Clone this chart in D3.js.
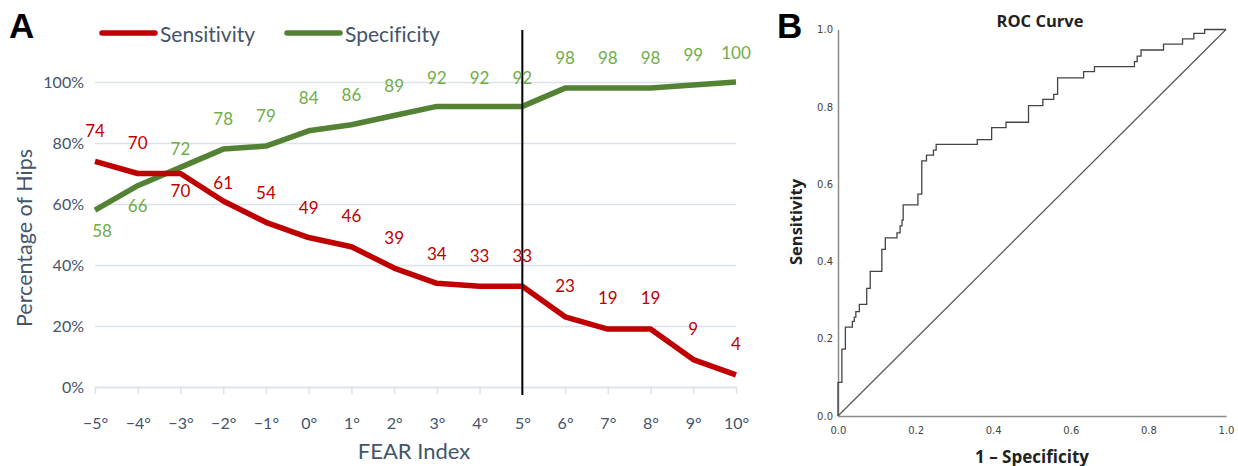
<!DOCTYPE html>
<html>
<head>
<meta charset="utf-8">
<script src="https://cdn.jsdelivr.net/npm/d3@7"></script>
<style>
  html, body { margin: 0; padding: 0; background: #fff; }
  svg { display: block; font-variant-ligatures: none; }
</style>
</head>
<body>
<div id="chart"></div>
<script>
// Panel A data
const fearIndex = [-5, -4, -3, -2, -1, 0, 1, 2, 3, 4, 5, 6, 7, 8, 9, 10];
const sensitivity = [74, 70, 70, 61, 54, 49, 46, 39, 34, 33, 33, 23, 19, 19, 9, 4];
const specificity = [58, 66, 72, 78, 79, 84, 86, 89, 92, 92, 92, 98, 98, 98, 99, 100];
const yTicksA = [0, 20, 40, 60, 80, 100];
const cutoff = 5;

// label placement (offset of label centre from point)
const sensLabelDy = [-31, -31, 17, -18, -30, -30, -31, -31, -30, -31, -31, -31, -32, -32, -31, -31];
const specLabelDy = [20, 20, -19, -31, -31, -33, -30, -30, -29, -29, -29, -31, -31, -31, -31, -30];

// Panel B data: ROC curve corner points (1 - specificity, sensitivity)
const rocFpr = [0, 0, 0.010, 0.019, 0.037, 0.042, 0.046, 0.055, 0.074, 0.083, 0.113, 0.122, 0.152, 0.160, 0.165, 0.168,
  0.206, 0.216, 0.228, 0.246, 0.253, 0.359, 0.396, 0.433, 0.491, 0.528, 0.556, 0.566, 0.633, 0.661, 0.764, 0.771,
  0.781, 0.839, 0.888, 0.917, 0.945, 1.0];
const rocTpr = [0, 0.087, 0.173, 0.230, 0.245, 0.256, 0.270, 0.289, 0.330, 0.374, 0.431, 0.461, 0.474, 0.492, 0.507, 0.546,
  0.574, 0.660, 0.675, 0.688, 0.703, 0.715, 0.746, 0.760, 0.803, 0.819, 0.832, 0.875, 0.891, 0.904, 0.917, 0.931,
  0.947, 0.962, 0.976, 0.990, 1.0, 1.0];
const rocTicks = [0, 0.2, 0.4, 0.6, 0.8, 1.0];

const W = 1238, H = 466;
const textCol = "#44546A";
const gridCol = "#DCE2EA";
const red = "#C00000";
const green = "#548235";
const greenLabel = "#70AD47";
const fontA = "Lato, 'Open Sans', sans-serif";

const svg = d3.select("#chart").append("svg")
  .attr("width", W)
  .attr("height", H);

// ---------- Panel A ----------
const gA = svg.append("g");

const x = d3.scalePoint().domain(fearIndex).range([95, 736]);
const y = d3.scaleLinear().domain([0, 100]).range([387, 82]);

// gridlines + labels
const yAxis = gA.append("g")
  .attr("transform", "translate(95,0)")
  .call(d3.axisLeft(y).tickValues(yTicksA).tickSize(-641).tickFormat(d => d + "%"));
yAxis.select(".domain").remove();
yAxis.selectAll("line").attr("stroke", gridCol).attr("stroke-width", 1.5);
yAxis.selectAll("text")
  .attr("x", -11)
  .attr("fill", textCol)
  .style("font-family", fontA)
  .style("font-size", "16px");

// x axis with small ticks
const xAxis = gA.append("g")
  .attr("transform", "translate(0,387)")
  .call(d3.axisBottom(x).tickSize(7).tickSizeOuter(0).tickFormat(d => (d < 0 ? "\u2212" + Math.abs(d) : d) + "°"));
xAxis.select(".domain").attr("stroke", gridCol).attr("stroke-width", 1.5);
xAxis.selectAll("line").attr("stroke", gridCol).attr("stroke-width", 1.5);
xAxis.selectAll("text")
  .attr("y", 31)
  .attr("fill", textCol)
  .style("font-family", fontA)
  .style("font-size", "16px");

// lines
const line = d3.line()
  .x((d, i) => x(fearIndex[i]))
  .y(d => y(d));

gA.append("path")
  .datum(specificity)
  .attr("d", line)
  .attr("fill", "none")
  .attr("stroke", green)
  .attr("stroke-width", 5.5)
  .attr("stroke-linejoin", "round");

gA.append("path")
  .datum(sensitivity)
  .attr("d", line)
  .attr("fill", "none")
  .attr("stroke", red)
  .attr("stroke-width", 5.5)
  .attr("stroke-linejoin", "round");

// cutoff line
gA.append("line")
  .attr("x1", x(cutoff)).attr("x2", x(cutoff))
  .attr("y1", 30).attr("y2", 395)
  .attr("stroke", "#000")
  .attr("stroke-width", 2);

// data labels
gA.selectAll(".sensLab")
  .data(sensitivity)
  .enter()
  .append("text")
  .attr("x", (d, i) => x(fearIndex[i]))
  .attr("y", (d, i) => y(d) + sensLabelDy[i])
  .attr("text-anchor", "middle")
  .attr("dominant-baseline", "central")
  .attr("fill", red)
  .style("font-family", fontA)
  .style("font-size", "17px")
  .text(d => d);

gA.selectAll(".specLab")
  .data(specificity)
  .enter()
  .append("text")
  .attr("x", (d, i) => x(fearIndex[i]) + (i === 0 ? 7 : 0))
  .attr("y", (d, i) => y(d) + specLabelDy[i])
  .attr("text-anchor", "middle")
  .attr("dominant-baseline", "central")
  .attr("fill", greenLabel)
  .style("font-family", fontA)
  .style("font-size", "17px")
  .text(d => d);

// legend
const legend = [["Sensitivity", red, 102], ["Specificity", green, 287]];
legend.forEach(([name, col, lx]) => {
  gA.append("line")
    .attr("x1", lx).attr("x2", lx + 53)
    .attr("y1", 33).attr("y2", 33)
    .attr("stroke", col)
    .attr("stroke-width", 5.5)
    .attr("stroke-linecap", "round");
  gA.append("text")
    .attr("x", lx + 58)
    .attr("y", 33)
    .attr("dominant-baseline", "central")
    .attr("fill", textCol)
    .style("font-family", fontA)
    .style("font-size", "21px")
    .text(name);
});

// axis titles
gA.append("text")
  .attr("transform", "translate(24,238) rotate(-90)")
  .attr("text-anchor", "middle")
  .attr("dominant-baseline", "central")
  .attr("fill", textCol)
  .style("font-family", fontA)
  .style("font-size", "21.5px")
  .text("Percentage of Hips");

gA.append("text")
  .attr("x", 414)
  .attr("y", 450)
  .attr("text-anchor", "middle")
  .attr("dominant-baseline", "central")
  .attr("fill", textCol)
  .style("font-family", fontA)
  .style("font-size", "22px")
  .text("FEAR Index");

svg.append("text")
  .attr("x", 9).attr("y", 38)
  .style("font-family", "'Liberation Sans', Arial, sans-serif")
  .style("font-weight", "700")
  .style("font-size", "35px")
  .text("A");

// ---------- Panel B ----------
const gB = svg.append("g");
const fontB = "'DejaVu Sans', sans-serif";

const bx = d3.scaleLinear().domain([0, 1]).range([838, 1226]);
const by = d3.scaleLinear().domain([0, 1]).range([416, 29.5]);

const bxAxis = gB.append("g")
  .attr("transform", "translate(0,416)")
  .call(d3.axisBottom(bx).tickValues(rocTicks).tickSize(0).tickFormat(d3.format(".1f")));
bxAxis.select(".domain").attr("stroke", "#8a8a8a").attr("stroke-width", 1.5);
bxAxis.selectAll("text")
  .attr("y", 11)
  .attr("fill", "#444")
  .style("font-family", fontB)
  .style("font-size", "10px");

const byAxis = gB.append("g")
  .attr("transform", "translate(838,0)")
  .call(d3.axisLeft(by).tickValues(rocTicks).tickSize(0).tickFormat(d3.format(".1f")));
byAxis.select(".domain").attr("stroke", "#8a8a8a").attr("stroke-width", 1.5);
byAxis.selectAll("text")
  .attr("x", -5)
  .attr("fill", "#444")
  .style("font-family", fontB)
  .style("font-size", "10px");

// reference diagonal
gB.append("line")
  .attr("x1", bx(0)).attr("y1", by(0))
  .attr("x2", bx(1)).attr("y2", by(1))
  .attr("stroke", "#555")
  .attr("stroke-width", 1.2);

// ROC step curve
const roc = d3.line()
  .x((d, i) => bx(rocFpr[i]))
  .y(d => by(d))
  .curve(d3.curveStepAfter);

gB.append("path")
  .datum(rocTpr)
  .attr("d", roc)
  .attr("fill", "none")
  .attr("stroke", "#444")
  .attr("stroke-width", 1.3);

gB.append("text")
  .attr("x", 1040).attr("y", 20)
  .attr("text-anchor", "middle")
  .attr("dominant-baseline", "central")
  .style("font-family", "'Open Sans', sans-serif")
  .style("font-weight", "700")
  .style("font-size", "16.5px")
  .attr("fill", "#222")
  .text("ROC Curve");

gB.append("text")
  .attr("transform", "translate(795,222) rotate(-90)")
  .attr("text-anchor", "middle")
  .attr("dominant-baseline", "central")
  .style("font-family", "'Open Sans', sans-serif")
  .style("font-weight", "700")
  .style("font-size", "16.5px")
  .attr("fill", "#222")
  .text("Sensitivity");

gB.append("text")
  .attr("x", 1032).attr("y", 456)
  .attr("text-anchor", "middle")
  .attr("dominant-baseline", "central")
  .style("font-family", "'Open Sans', sans-serif")
  .style("font-weight", "700")
  .style("font-size", "17px")
  .attr("fill", "#222")
  .text("1 \u2013 Specificity");

svg.append("text")
  .attr("x", 777).attr("y", 38)
  .style("font-family", "'Liberation Sans', Arial, sans-serif")
  .style("font-weight", "700")
  .style("font-size", "35px")
  .text("B");
</script>
</body>
</html>
